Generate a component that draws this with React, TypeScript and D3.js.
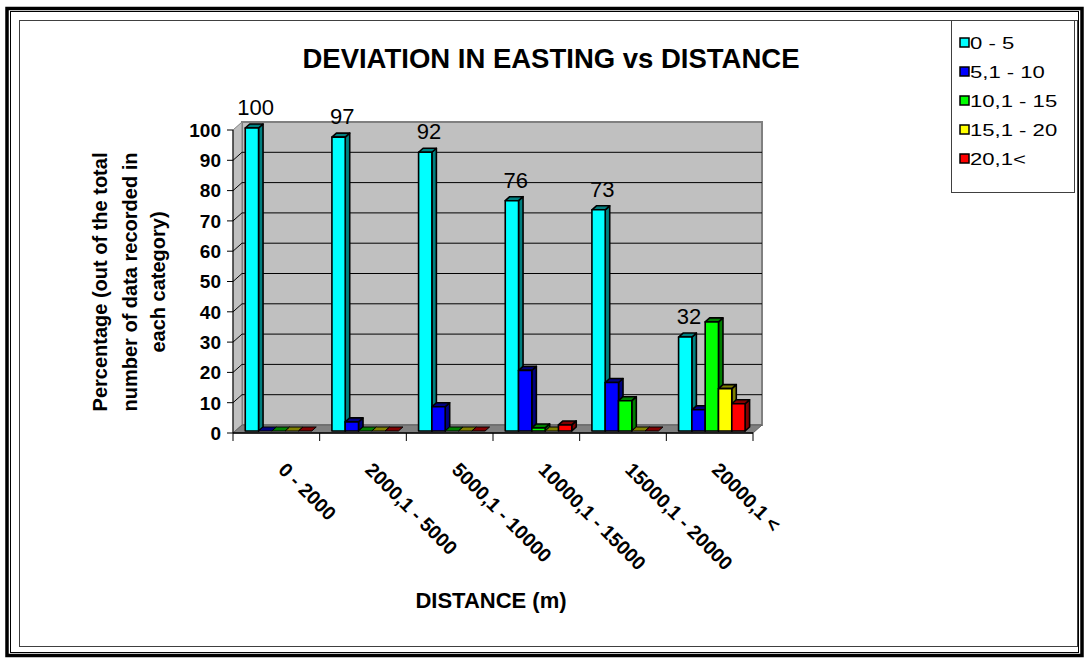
import * as d3 from 'd3';

const categories = ['0 - 2000', '2000,1 - 5000', '5000,1 - 10000', '10000,1 - 15000', '15000,1 - 20000', '20000,1 <'];
const seriesNames = ['0 - 5', '5,1 - 10', '10,1 - 15', '15,1 - 20', '20,1<'];
const s0to5 = [100, 97, 92, 76, 73, 31];
const s5to10 = [0, 3, 8, 20, 16, 7];
const s10to15 = [0, 0, 0, 1, 10, 36];
const s15to20 = [0, 0, 0, 0, 0, 14];
const s20plus = [0, 0, 0, 2, 0, 9];
const cyanLabels = ['100', '97', '92', '76', '73', '32'];
const yTicks = [0, 10, 20, 30, 40, 50, 60, 70, 80, 90, 100];

const seriesValues = [s0to5, s5to10, s10to15, s15to20, s20plus];
const faceColors = ['#00FFFF', '#0000FF', '#00FF00', '#FFFF00', '#FF0000'];
const darkColors = ['#008080', '#000080', '#008000', '#808000', '#800000'];

const FONT = '"Liberation Sans", Arial, Helvetica, sans-serif';

export default function App() {
  const W = 1086;
  const H = 658;
  const x = d3.scaleBand<string>().domain(categories).range([233, 753]);
  const bw = x.bandwidth();
  const xs = d3.scaleBand<string>().domain(seriesNames).range([10, 76.5]);
  const y = d3.scaleLinear().domain([0, 100]).range([433, 130]);
  // wall depth and bar depth offsets
  const DX = 9;
  const DY = -8;
  const fX = DX * 0.25;
  const fY = DY * 0.25;
  const bX = DX * 0.5;
  const bY = DY * 0.5;

  const pts = (p: [number, number][]) => p.map((d) => d.join(',')).join(' ');
  const x0 = x.range()[0];
  const x1 = x.range()[1];
  const y0 = y(0);
  const yTop = y(100);

  const bars: JSX.Element[] = [];
  categories.forEach((c, ci) => {
    seriesNames.forEach((s, si) => {
      const v = seriesValues[si][ci];
      const left = (x(c) || 0) + (xs(s) || 0) + fX;
      const w = xs.bandwidth();
      const yb = y0 + fY;
      const yt = y(v) + fY;
      const top = pts([[left, yt], [left + w, yt], [left + w + bX, yt + bY], [left + bX, yt + bY]]);
      if (v === 0) {
        bars.push(<polygon key={`${ci}-${si}`} points={top} fill={darkColors[si]} stroke="#000" strokeWidth={1} />);
        return;
      }
      bars.push(
        <g key={`${ci}-${si}`} stroke="#000" strokeWidth={1.6} strokeLinejoin="round">
          <polygon points={pts([[left + w, yt], [left + w + bX, yt + bY], [left + w + bX, yb + bY], [left + w, yb]])} fill={darkColors[si]} />
          <polygon points={top} fill={darkColors[si]} />
          <rect x={left} y={yt} width={w} height={yb - yt} fill={faceColors[si]} />
        </g>
      );
    });
  });

  return (
    <svg width={W} height={H} style={{ position: 'absolute', left: 0, top: 0 }} fontFamily={FONT}>
      <rect x={0} y={0} width={W} height={H} fill="#fff" />
      {/* outer frame */}
      <rect x={7} y={8.5} width={1075} height={647} fill="none" stroke="#000" strokeWidth={3.5} />
      <rect x={10.5} y={11.5} width={1068} height={641} fill="none" stroke="#000" strokeWidth={1} />
      <rect x={19.5} y={20.5} width={1058} height={626} fill="none" stroke="#404040" strokeWidth={1} />

      <text x={551} y={68} textAnchor="middle" fontSize={27.5} fontWeight="bold">DEVIATION IN EASTING vs DISTANCE</text>

      {/* back wall */}
      <polygon points={pts([[x0 + DX, y0 + DY], [x1 + DX, y0 + DY], [x1 + DX, yTop + DY], [x0 + DX, yTop + DY]])} fill="#C0C0C0" stroke="#808080" strokeWidth={2} />
      {/* left wall */}
      <polygon points={pts([[x0, y0], [x0 + DX, y0 + DY], [x0 + DX, yTop + DY], [x0, yTop]])} fill="#C0C0C0" stroke="#808080" strokeWidth={1} />
      {yTicks.filter((t) => t > 0 && t < 100).map((t) => (
        <g key={t} stroke="#000" strokeWidth={1}>
          <line x1={x0 + DX} x2={x1 + DX} y1={y(t) + DY} y2={y(t) + DY} />
          <line x1={x0} x2={x0 + DX} y1={y(t)} y2={y(t) + DY} />
        </g>
      ))}
      {/* floor */}
      <polygon points={pts([[x0, y0], [x1, y0], [x1 + DX, y0 + DY], [x0 + DX, y0 + DY]])} fill="#808080" stroke="#606060" strokeWidth={1} />
      <line x1={x0} x2={x1} y1={y0} y2={y0} stroke="#000" strokeWidth={1.5} />

      {bars}

      {/* value labels */}
      {categories.map((c, ci) => (
        <text key={c} x={(x(c) || 0) + (xs(seriesNames[0]) || 0) + xs.bandwidth() / 2 + 6} y={y(s0to5[ci]) + fY - 13} textAnchor="middle" fontSize={22}>
          {cyanLabels[ci]}
        </text>
      ))}

      {/* y axis */}
      <line x1={x0} x2={x0} y1={y0} y2={yTop} stroke="#000" strokeWidth={1} />
      {yTicks.map((t) => (
        <g key={t}>
          <line x1={x0 - 6} x2={x0} y1={y(t)} y2={y(t)} stroke="#000" />
          <text x={x0 - 12} y={y(t)} dy="0.36em" textAnchor="end" fontSize={19} fontWeight="bold">{t}</text>
        </g>
      ))}
      <g transform="translate(137,282) rotate(-90)" fontSize={20} fontWeight="bold" textAnchor="middle">
        <text y={-30}>Percentage (out of the total</text>
        <text y={0}>number of data recorded in</text>
        <text y={28}>each category)</text>
      </g>

      {/* x axis */}
      {d3.range(categories.length + 1).map((i) => {
        const xx = x0 + i * bw;
        return <line key={i} x1={xx} x2={xx} y1={y0} y2={y0 + 8} stroke="#000" />;
      })}
      {categories.map((c) => {
        const cx = (x(c) || 0) + bw / 2;
        return (
          <text key={c} transform={`translate(${cx + 1},${471}) rotate(45)`} fontSize={19.5} fontWeight="bold">
            {c}
          </text>
        );
      })}
      <text x={491} y={608} textAnchor="middle" fontSize={22} fontWeight="bold">DISTANCE (m)</text>

      {/* legend */}
      <rect x={951.5} y={20.5} width={123} height={172} fill="#fff" stroke="#404040" strokeWidth={1} />
      {seriesNames.map((s, i) => {
        const cy = 43 + i * 29;
        return (
          <g key={s}>
            <rect x={960} y={cy - 5} width={9} height={9} fill={faceColors[i]} stroke="#000" strokeWidth={1.5} />
            <text transform={`translate(970,${cy}) scale(1.3,1)`} dy="0.36em" fontSize={17}>{s}</text>
          </g>
        );
      })}
    </svg>
  );
}
